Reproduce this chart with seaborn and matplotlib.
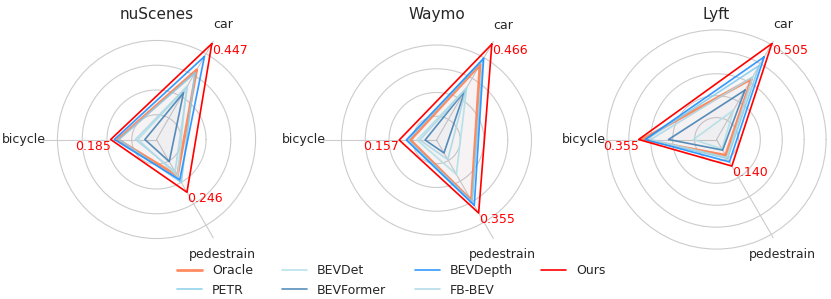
import numpy as np
import matplotlib
matplotlib.use("Agg")
import matplotlib.pyplot as plt
import seaborn as sns

sns.set_style("white")
plt.rcParams['font.family'] = ['DejaVu Sans']

# categories on the radar (counter-clockwise from the car spoke)
categories = ["car", "bicycle", "pedestrain"]
datasets = ["nuScenes", "Waymo", "Lyft"]
methods = ["Oracle", "PETR", "BEVDet", "BEVFormer", "BEVDepth", "FB-BEV", "Ours"]

# values: [car, bicycle, pedestrain]
nuscenes_vals = {
    "Oracle":    [0.324, 0.157, 0.169],
    "PETR":      [0.310, 0.152, 0.200],
    "BEVDet":    [0.242, 0.075, 0.170],
    "BEVFormer": [0.218, 0.047, 0.103],
    "BEVDepth":  [0.387, 0.170, 0.188],
    "FB-BEV":    [0.250, 0.085, 0.150],
    "Ours":      [0.447, 0.185, 0.246],
}
waymo_vals = {
    "Oracle":    [0.366, 0.110, 0.294],
    "PETR":      [0.390, 0.120, 0.300],
    "BEVDet":    [0.254, 0.082, 0.167],
    "BEVFormer": [0.239, 0.048, 0.063],
    "BEVDepth":  [0.397, 0.127, 0.318],
    "FB-BEV":    [0.250, 0.070, 0.095],
    "Ours":      [0.466, 0.157, 0.355],
}
lyft_vals = {
    "Oracle":    [0.320, 0.340, 0.083],
    "PETR":      [0.390, 0.320, 0.100],
    "BEVDet":    [0.154, 0.105, 0.050],
    "BEVFormer": [0.260, 0.219, 0.056],
    "BEVDepth":  [0.435, 0.325, 0.118],
    "FB-BEV":    [0.330, 0.300, 0.095],
    "Ours":      [0.505, 0.355, 0.140],
}
all_vals = [nuscenes_vals, waymo_vals, lyft_vals]

palette = sns.color_palette(["#FF7F50", "#87CEEB", "#B0E0E6", "#4682B4",
                             "#1E90FF", "#ADD8E6", "#FF0000"])
colors = dict(zip(methods, palette))
widths = {m: 1.2 for m in methods}
widths["Oracle"] = 2.0

# car spoke at 60 deg, then bicycle at 180 deg and pedestrain at 300 deg
angles = np.pi / 3 + np.linspace(0, 2 * np.pi, len(categories), endpoint=False)
closed = np.append(angles, angles[0])

fig = plt.figure(figsize=(8.31, 2.99), dpi=100)
W, H = 831, 299
centers = [(156.5, 139.5), (436.5, 140), (716.5, 139.5)]
rad_px = 114

for i, (name, vals) in enumerate(zip(datasets, all_vals)):
    cx, cy = centers[i]
    ax = fig.add_axes([(cx - rad_px) / W, 1 - (cy + rad_px) / H,
                       2 * rad_px / W, 2 * rad_px / H], polar=True)

    for m in methods:
        v = vals[m] + vals[m][:1]
        ax.plot(closed, v, color=colors[m], lw=widths[m],
                alpha=0.9 if m != "Ours" else 1.0, label=m)
        ax.fill(closed, v, color=colors[m], alpha=0.02)

    vmax = max(vals["Ours"])
    ax.set_ylim(0, vmax * 1.03)
    ax.set_yticks(np.arange(0.1, vmax * 1.03, 0.1))
    ax.set_yticklabels([])
    ax.set_xticks(angles)
    ax.set_xticklabels(categories, fontsize=9)
    ax.tick_params(axis="x", pad=3)
    ax.grid(True, color="#cccccc", lw=0.8)
    ax.spines["polar"].set_visible(False)
    ax.set_title(name, fontsize=11, y=1.0, pad=5)

    # red labels at the "Ours" vertices
    for a, val in zip(angles, vals["Ours"]):
        ha = "left" if np.cos(a) >= 0 else "right"
        ax.text(a, val, f"{val:.3f}", color="red", fontsize=9, ha=ha, va="top")

    handles, labels = ax.get_legend_handles_labels()

fig.legend(handles, labels, loc="lower center", bbox_to_anchor=(0.471, -0.03),
           ncol=4, frameon=False, fontsize=9, columnspacing=2.3,
           handlelength=2.0, labelspacing=0.5)

fig.savefig("out.png", dpi=100)
